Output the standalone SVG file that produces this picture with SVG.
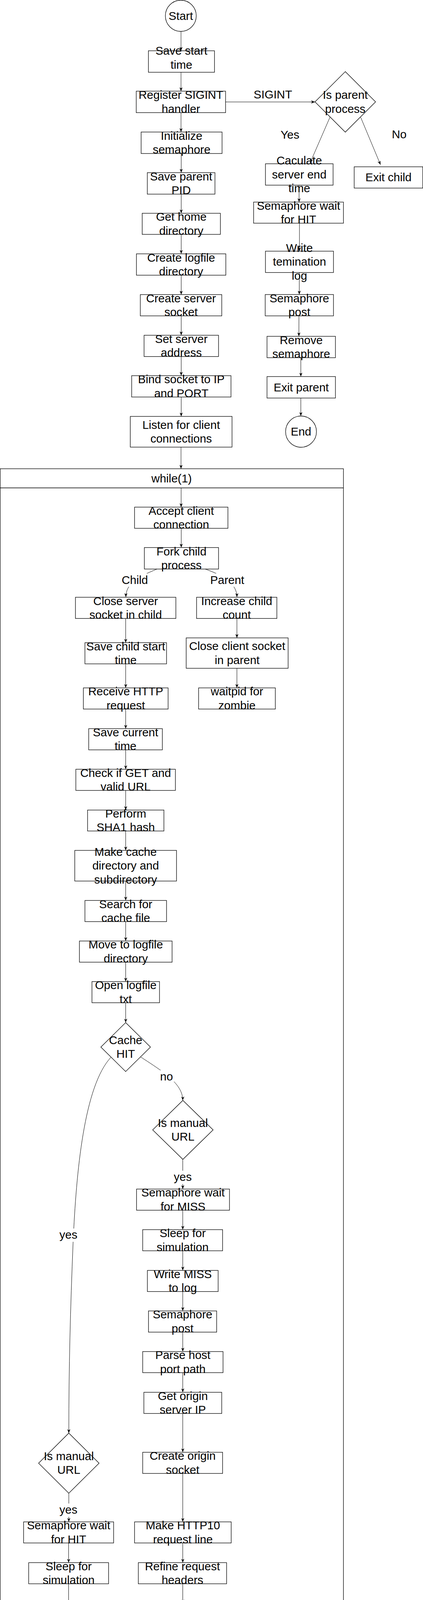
<svg xmlns="http://www.w3.org/2000/svg" width="1082" height="4733" viewBox="0 0 1082 4733">
<style>
text{font-family:"Liberation Sans",Arial,sans-serif;font-size:29.5px;text-anchor:middle;fill:#000}
.n rect,.n ellipse,.n polygon{fill:#fff;stroke:#000;stroke-width:1.3}
.e{fill:none;stroke:#000;stroke-width:1;marker-end:url(#arr)}
.lb{fill:#fff;stroke:none}
</style>
<defs>
<marker id="arr" viewBox="0 0 10 8" refX="10" refY="4" markerWidth="10" markerHeight="8" markerUnits="userSpaceOnUse" orient="auto">
<path d="M0,0 L10,4 L0,8 L3,4 Z" fill="#000"/>
</marker>
</defs>
<rect width="1082" height="4733" fill="#fff"/>
<g id="while_loop" class="n">
<rect x="0.5" y="1200" width="878" height="3531"/>
<line x1="0.5" y1="1249" x2="878.5" y2="1249" stroke="#000" stroke-width="1.3"/>
<text x="439" y="1234.5">while(1)</text>
</g>
<g id="connectors">
<path class="e" d="M463,80.5 V130"/>
<path class="e" d="M463,185 V233.4"/>
<path class="e" d="M463,288.4 V338"/>
<path class="e" d="M463.5,393 V442"/>
<path class="e" d="M463.5,497 V546"/>
<path class="e" d="M463.5,600 V649.8"/>
<path class="e" d="M463.5,704.5 V754.2"/>
<path class="e" d="M463.5,808.6 V858.3"/>
<path class="e" d="M463.5,912.7 V961.7"/>
<path class="e" d="M463.5,1016.4 V1066"/>
<path class="e" d="M463,1144.6 V1200"/>
<path class="e" d="M577,261 H805.7"/>
<path class="e" d="M844,300 L793.3,416.7"/>
<path class="e" d="M922.7,300.5 L973.3,421.7"/>
<path class="e" d="M765,474 V517.4"/>
<path class="e" d="M766,571.4 V643"/>
<path class="e" d="M765.5,697.6 V754"/>
<path class="e" d="M764.7,808.6 L764.5,861"/>
<path class="e" d="M769.5,915.7 V964"/>
<path class="e" d="M769.5,1019 V1065"/>
<path class="e" d="M463.3,1249 V1298.3"/>
<path class="e" d="M463.6,1352.5 V1401.7"/>
<path class="e" d="M401.7,1456.7 C350,1478 322,1495 322,1528.5"/>
<path class="e" d="M525,1456.7 C575,1475 606,1495 606,1528.5"/>
<path class="e" d="M321.5,1583.3 V1645.3"/>
<path class="e" d="M321.5,1699.5 V1761"/>
<path class="e" d="M321.5,1815.2 V1865.4"/>
<path class="e" d="M321.5,1919.6 V1969.3"/>
<path class="e" d="M321.5,2023.5 V2073.7"/>
<path class="e" d="M321.5,2127.4 V2177"/>
<path class="e" d="M321.5,2255.5 V2305.2"/>
<path class="e" d="M321.5,2359.4 V2409"/>
<path class="e" d="M321.5,2463.2 V2512.8"/>
<path class="e" d="M321.5,2567 V2617.8"/>
<path class="e" d="M606,1583.3 V1633"/>
<path class="e" d="M606,1710.8 V1761"/>
<path class="e" d="M284,2706.4 C215,2780 195,3000 187,3180 C180,3350 176,3500 176,3668.7"/>
<path class="e" d="M360,2706 C420,2745 467.5,2775 467.5,2817"/>
<path class="e" d="M467.5,2968 V3044"/>
<path class="e" d="M467.5,3098.2 V3147.9"/>
<path class="e" d="M467.5,3202 V3252.3"/>
<path class="e" d="M467.5,3306.4 V3356"/>
<path class="e" d="M467.5,3410.3 V3460"/>
<path class="e" d="M467.5,3514 V3564.3"/>
<path class="e" d="M467.5,3618.5 V3717.8"/>
<path class="e" d="M467.5,3772 V3896"/>
<path class="e" d="M467.5,3950 V4000.4"/>
<path class="e" d="M467.5,4054.5 V4104.8"/>
<path class="e" d="M467.5,4182.1 V4232.3"/>
<path class="e" d="M467.5,4286.5 V4336.2"/>
<path class="e" d="M467.5,4390.3 V4440"/>
<path class="e" d="M467.5,4494.2 V4543.8"/>
<path class="e" d="M176,3822.7 V3896"/>
<path class="e" d="M175.5,3950 V4000.4"/>
<path class="e" d="M175.5,4054.5 V4116"/>
<path class="e" d="M175.5,4170.2 V4232.3"/>
<path class="e" d="M175.5,4286.5 V4336.2"/>
<path class="e" d="M175.5,4390.3 V4440"/>
<path class="e" d="M175.5,4494.2 V4543.8"/>
<path class="e" d="M175.5,4598 C178,4625 225,4640 257.3,4648"/>
<path class="e" d="M467.5,4598 C467,4625 420,4638 386.6,4648"/>
<text x="698" y="251.7">SIGINT</text>
<text x="741.7" y="355">Yes</text>
<text x="1021" y="354.4">No</text>
<rect class="lb" x="309" y="1468" width="72" height="34"/>
<text x="344.8" y="1494.5">Child</text>
<rect class="lb" x="536" y="1468" width="92" height="34"/>
<text x="581.3" y="1494.5">Parent</text>
<rect class="lb" x="408" y="2740" width="37" height="34"/>
<text x="426" y="2766">no</text>
<rect class="lb" x="443" y="2997" width="50" height="34"/>
<text x="467.5" y="3023">yes</text>
<rect class="lb" x="151" y="3145" width="50" height="34"/>
<text x="175" y="3171">yes</text>
<rect class="lb" x="151" y="3849" width="50" height="34"/>
<text x="175" y="3875">yes</text>
</g>
<g id="start" class="n"><ellipse cx="462.5" cy="40.5" rx="39.5" ry="40"/><text x="462.5" y="50.5">Start</text></g>
<g id="save_start_time" class="n"><rect x="379.6" y="130" width="169" height="55"/><text x="464.1" y="140.3">Save start</text><text x="464.1" y="175.7">time</text></g>
<g id="register_sigint" class="n"><rect x="348.5" y="233.4" width="228.5" height="55"/><text x="462.75" y="253.2">Register SIGINT</text><text x="462.75" y="288.6">handler</text></g>
<g id="init_semaphore" class="n"><rect x="361" y="338" width="207" height="55"/><text x="464.5" y="357.8">Initialize</text><text x="464.5" y="393.2">semaphore</text></g>
<g id="save_parent_pid" class="n"><rect x="376.8" y="442" width="173" height="55"/><text x="463.4" y="461.8">Save parent</text><text x="463.4" y="497.2">PID</text></g>
<g id="get_home" class="n"><rect x="363.7" y="546" width="200" height="54"/><text x="463.7" y="565.3">Get home</text><text x="463.7" y="600.7">directory</text></g>
<g id="create_logfile_dir" class="n"><rect x="349" y="649.8" width="228.6" height="54.7"/><text x="463.3" y="669.5">Create logfile</text><text x="463.3" y="704.9">directory</text></g>
<g id="create_server_socket" class="n"><rect x="358.9" y="754.2" width="208.4" height="54.4"/><text x="463.1" y="773.7">Create server</text><text x="463.1" y="809.1">socket</text></g>
<g id="set_server_address" class="n"><rect x="368.5" y="858.3" width="190.5" height="54.4"/><text x="463.75" y="877.8">Set server</text><text x="463.75" y="913.2">address</text></g>
<g id="bind_socket" class="n"><rect x="336.8" y="961.7" width="254" height="54.7"/><text x="463.8" y="981.3">Bind socket to IP</text><text x="463.8" y="1016.7">and PORT</text></g>
<g id="listen" class="n"><rect x="333.3" y="1066" width="260.2" height="78.6"/><text x="463.4" y="1097.6">Listen for client</text><text x="463.4" y="1133">connections</text></g>
<g id="is_parent_process" class="n"><polygon points="883.2,183.3 960.7,260.8 883.2,338.3 805.7,260.8"/><text x="883.2" y="253.1">Is parent</text><text x="883.2" y="288.5">process</text></g>
<g id="calc_end_time" class="n"><rect x="679" y="419.3" width="173" height="54.7"/><text x="765.5" y="421.3">Caculate</text><text x="765.5" y="456.7">server end</text><text x="765.5" y="492.1">time</text></g>
<g id="exit_child" class="n"><rect x="906" y="427" width="175.5" height="54.5"/><text x="993.75" y="464.25">Exit child</text></g>
<g id="sem_wait_hit_top" class="n"><rect x="648.7" y="517.4" width="229.8" height="54"/><text x="763.6" y="536.7">Semaphore wait</text><text x="763.6" y="572.1">for HIT</text></g>
<g id="write_termination_log" class="n"><rect x="679" y="643" width="174" height="54.6"/><text x="766" y="644.9">Write</text><text x="766" y="680.3">temination</text><text x="766" y="715.7">log</text></g>
<g id="sem_post_top" class="n"><rect x="678.4" y="754" width="174.6" height="54.6"/><text x="765.7" y="773.6">Semaphore</text><text x="765.7" y="809">post</text></g>
<g id="remove_semaphore" class="n"><rect x="683" y="861" width="175" height="54.7"/><text x="770.5" y="880.7">Remove</text><text x="770.5" y="916.1">semaphore</text></g>
<g id="exit_parent" class="n"><rect x="683" y="964" width="175" height="55"/><text x="770.5" y="1001.5">Exit parent</text></g>
<g id="end" class="n"><ellipse cx="770" cy="1105" rx="39.5" ry="40"/><text x="770" y="1115">End</text></g>
<g id="accept_client" class="n"><rect x="344.2" y="1298.3" width="238.8" height="54.2"/><text x="463.6" y="1317.7">Accept client</text><text x="463.6" y="1353.1">connection</text></g>
<g id="fork_child" class="n"><rect x="369.3" y="1401.7" width="189.7" height="55"/><text x="464.15" y="1421.5">Fork child</text><text x="464.15" y="1456.9">process</text></g>
<g id="close_server_socket" class="n"><rect x="193" y="1529" width="256.8" height="54.3"/><text x="321.4" y="1548.5">Close server</text><text x="321.4" y="1583.9">socket in child</text></g>
<g id="increase_child_count" class="n"><rect x="502.8" y="1529" width="205.4" height="54.3"/><text x="605.5" y="1548.5">Increase child</text><text x="605.5" y="1583.9">count</text></g>
<g id="save_child_start" class="n"><rect x="217.3" y="1645.3" width="208.7" height="54.2"/><text x="321.65" y="1664.7">Save child start</text><text x="321.65" y="1700.1">time</text></g>
<g id="close_client_parent" class="n"><rect x="476.3" y="1633" width="260.7" height="77.8"/><text x="606.65" y="1664.2">Close client socket</text><text x="606.65" y="1699.6">in parent</text></g>
<g id="receive_http" class="n"><rect x="213.3" y="1761" width="216.7" height="54.2"/><text x="321.65" y="1780.4">Receive HTTP</text><text x="321.65" y="1815.8">request</text></g>
<g id="waitpid" class="n"><rect x="508" y="1761" width="196.3" height="54.2"/><text x="606.15" y="1780.4">waitpid for</text><text x="606.15" y="1815.8">zombie</text></g>
<g id="save_current_time" class="n"><rect x="226.9" y="1865.4" width="188.4" height="54.2"/><text x="321.1" y="1884.8">Save current</text><text x="321.1" y="1920.2">time</text></g>
<g id="check_get" class="n"><rect x="194" y="1969.3" width="254.6" height="54.2"/><text x="321.3" y="1988.7">Check if GET and</text><text x="321.3" y="2024.1">valid URL</text></g>
<g id="sha1" class="n"><rect x="224" y="2073.7" width="195.3" height="53.7"/><text x="321.65" y="2092.85">Perform</text><text x="321.65" y="2128.25">SHA1 hash</text></g>
<g id="make_cache_dir" class="n"><rect x="191.3" y="2177" width="260.2" height="78.5"/><text x="321.4" y="2190.85">Make cache</text><text x="321.4" y="2226.25">directory and</text><text x="321.4" y="2261.65">subdirectory</text></g>
<g id="search_cache" class="n"><rect x="217.3" y="2305.2" width="208.7" height="54.2"/><text x="321.65" y="2324.6">Search for</text><text x="321.65" y="2360">cache file</text></g>
<g id="move_logfile_dir" class="n"><rect x="203.2" y="2409" width="237" height="54.2"/><text x="321.7" y="2428.4">Move to logfile</text><text x="321.7" y="2463.8">directory</text></g>
<g id="open_logfile" class="n"><rect x="235.3" y="2512.8" width="172.7" height="54.2"/><text x="321.65" y="2532.2">Open logfile</text><text x="321.65" y="2567.6">txt</text></g>
<g id="cache_hit" class="n"><polygon points="321.4,2617.8 384.9,2680.5 321.4,2743.1 258,2680.5"/><text x="321.4" y="2672.8">Cache</text><text x="321.4" y="2708.2">HIT</text></g>
<g id="manual_url_miss" class="n"><polygon points="467.8,2817 545.1,2892.5 467.8,2968 390.5,2892.5"/><text x="467.8" y="2884.8">Is manual</text><text x="467.8" y="2920.2">URL</text></g>
<g id="sem_wait_miss" class="n"><rect x="349.3" y="3044" width="237.7" height="54.2"/><text x="468.15" y="3063.4">Semaphore wait</text><text x="468.15" y="3098.8">for MISS</text></g>
<g id="sleep_miss" class="n"><rect x="365" y="3147.9" width="204.4" height="54.1"/><text x="467.2" y="3167.25">Sleep for</text><text x="467.2" y="3202.65">simulation</text></g>
<g id="write_miss" class="n"><rect x="377" y="3252.3" width="181" height="54.1"/><text x="467.5" y="3271.65">Write MISS</text><text x="467.5" y="3307.05">to log</text></g>
<g id="sem_post_miss" class="n"><rect x="379.8" y="3356" width="174.4" height="54.3"/><text x="467" y="3375.45">Semaphore</text><text x="467" y="3410.85">post</text></g>
<g id="parse_host" class="n"><rect x="365" y="3460" width="205.5" height="54"/><text x="467.75" y="3479.3">Parse host</text><text x="467.75" y="3514.7">port path</text></g>
<g id="get_origin_ip" class="n"><rect x="368" y="3564.3" width="199.2" height="54.2"/><text x="467.6" y="3583.7">Get origin</text><text x="467.6" y="3619.1">server IP</text></g>
<g id="create_origin_socket" class="n"><rect x="365" y="3717.8" width="204.4" height="54.2"/><text x="467.2" y="3737.2">Create origin</text><text x="467.2" y="3772.6">socket</text></g>
<g id="make_http10" class="n"><rect x="344.2" y="3896" width="247.2" height="54"/><text x="467.8" y="3915.3">Make HTTP10</text><text x="467.8" y="3950.7">request line</text></g>
<g id="refine_headers" class="n"><rect x="353.8" y="4000.4" width="225.8" height="54.1"/><text x="466.7" y="4019.75">Refine request</text><text x="466.7" y="4055.15">headers</text></g>
<g id="send_request" class="n"><rect x="337" y="4104.8" width="260" height="77.3"/><text x="467" y="4135.75">Send request to</text><text x="467" y="4171.15">origin server</text></g>
<g id="receive_response" class="n"><rect x="375.8" y="4232.3" width="183.5" height="54.2"/><text x="467.55" y="4251.7">Receive</text><text x="467.55" y="4287.1">response</text></g>
<g id="send_response" class="n"><rect x="344.8" y="4336.2" width="243.8" height="54.1"/><text x="466.7" y="4355.55">Send response to</text><text x="466.7" y="4390.95">browser</text></g>
<g id="save_response" class="n"><rect x="339.2" y="4440" width="255" height="54.2"/><text x="466.7" y="4459.4">Save response to</text><text x="466.7" y="4494.8">cache file</text></g>
<g id="close_client_miss" class="n"><rect x="370.2" y="4543.8" width="195.3" height="54.2"/><text x="467.85" y="4563.2">Close client</text><text x="467.85" y="4598.6">socket</text></g>
<g id="manual_url_hit" class="n"><polygon points="176,3668.7 253.4,3745.7 176,3822.7 98.7,3745.7"/><text x="176" y="3738">Is manual</text><text x="176" y="3773.4">URL</text></g>
<g id="sem_wait_hit" class="n"><rect x="60.4" y="3896" width="230.2" height="54"/><text x="175.5" y="3915.3">Semaphore wait</text><text x="175.5" y="3950.7">for HIT</text></g>
<g id="sleep_hit" class="n"><rect x="73.4" y="4000.4" width="204.3" height="54.1"/><text x="175.55" y="4019.75">Sleep for</text><text x="175.55" y="4055.15">simulation</text></g>
<g id="write_hit" class="n"><rect x="89.2" y="4116" width="173.2" height="54.2"/><text x="175.8" y="4135.4">Write HIT to</text><text x="175.8" y="4170.8">log</text></g>
<g id="sem_post_hit" class="n"><rect x="88.6" y="4232.3" width="173.8" height="54.2"/><text x="175.5" y="4251.7">Semaphore</text><text x="175.5" y="4287.1">post</text></g>
<g id="open_read_cache" class="n"><rect x="55.3" y="4336.2" width="239.8" height="54.1"/><text x="175.2" y="4355.55">Open and read</text><text x="175.2" y="4390.95">cache file</text></g>
<g id="send_data" class="n"><rect x="68.9" y="4440" width="213.3" height="54.2"/><text x="175.55" y="4459.4">Send data to</text><text x="175.55" y="4494.8">browser</text></g>
<g id="close_client_hit" class="n"><rect x="77.9" y="4543.8" width="195.8" height="54.2"/><text x="175.8" y="4563.2">Close client</text><text x="175.8" y="4598.6">socket</text></g>
<g id="child_exit" class="n"><rect x="257.3" y="4647.7" width="129.3" height="54.2"/><text x="321.95" y="4684.8">Child exit</text></g>
</svg>
